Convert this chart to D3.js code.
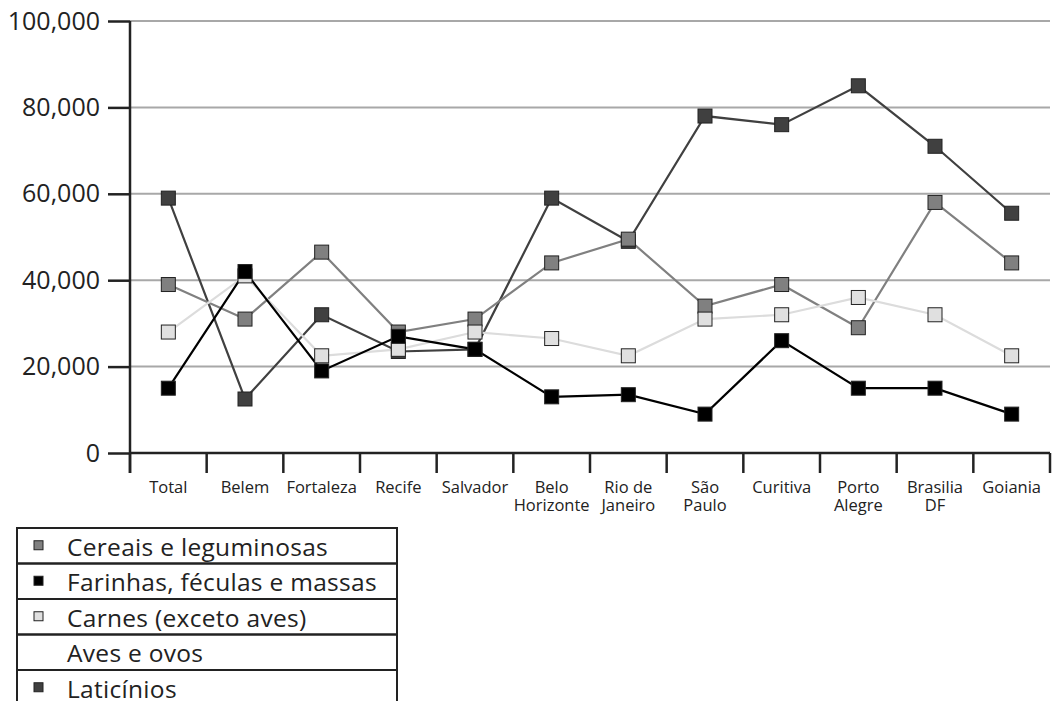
<!DOCTYPE html>
<html><head><meta charset="utf-8">
<script src="https://cdn.jsdelivr.net/npm/d3@7"></script>
<style>body{margin:0;background:#fff}svg{display:block}text{font-family:"Open Sans","Noto Sans",sans-serif;fill:#222}</style>
</head><body><svg id="c" width="1054" height="701"></svg>
<script>
const categories = ["Total","Belem","Fortaleza","Recife","Salvador","Belo Horizonte","Rio de Janeiro","São Paulo","Curitiva","Porto Alegre","Brasilia DF","Goiania"];
const categoryLines = [["Total"],["Belem"],["Fortaleza"],["Recife"],["Salvador"],["Belo","Horizonte"],["Rio de","Janeiro"],["São","Paulo"],["Curitiva"],["Porto","Alegre"],["Brasilia","DF"],["Goiania"]];
const yTicks = [0,20000,40000,60000,80000,100000];
const laticinios = [59000,12500,32000,23500,24000,59000,49000,78000,76000,85000,71000,55500];
const cereais = [39000,31000,46500,28000,31000,44000,49500,34000,39000,29000,58000,44000];
const carnes = [28000,41000,22500,24000,28000,26500,22500,31000,32000,36000,32000,22500];
const farinhas = [15000,42000,19000,27000,24000,13000,13500,9000,26000,15000,15000,9000];
const seriesNames = ["Cereais e leguminosas","Farinhas, féculas e massas","Carnes (exceto aves)","Aves e ovos","Laticínios"];

const svg = d3.select("#c");
const x = d3.scaleBand().domain(categories).range([130,1050]);
const y = d3.scaleLinear().domain([0,100000]).range([453,21]);

// gridlines
svg.append("g").selectAll("line").data(yTicks.filter(d=>d>0)).join("line")
  .attr("x1",130).attr("x2",1050).attr("y1",d=>y(d)).attr("y2",d=>y(d))
  .attr("stroke","#a8a8a8").attr("stroke-width",2);

// y axis
const ya = svg.append("g").attr("transform","translate(130,0)")
  .call(d3.axisLeft(y).tickValues(yTicks).tickSize(22).tickPadding(8).tickFormat(d3.format(",")));
ya.select(".domain").remove();
ya.selectAll(".tick line").attr("stroke","#222").attr("stroke-width",2.5);
ya.selectAll(".tick text").attr("font-size",25).attr("fill","#222").attr("font-family","'Open Sans',sans-serif");
svg.append("line").attr("x1",130).attr("x2",130).attr("y1",y(100000)).attr("y2",473).attr("stroke","#222").attr("stroke-width",2.5);

// x axis
svg.append("line").attr("x1",130).attr("x2",1050).attr("y1",453).attr("y2",453).attr("stroke","#222").attr("stroke-width",2.5);
const edges = categories.map(c=>x(c)).concat([x.range()[1]]);
svg.append("g").selectAll("line").data(edges).join("line")
  .attr("x1",d=>d).attr("x2",d=>d).attr("y1",453).attr("y2",473).attr("stroke","#222").attr("stroke-width",2.5);
const xl = svg.append("g").selectAll("text").data(categories).join("text")
  .attr("x",d=>x(d)+x.bandwidth()/2).attr("y",493).attr("text-anchor","middle").attr("font-size",16.5);
xl.each(function(d,i){
  const t=d3.select(this);
  categoryLines[i].forEach((s,j)=>t.append("tspan").attr("x",x(d)+x.bandwidth()/2).attr("dy",j?18:0).text(s));
});

// series
const series = [
  {name:"Laticínios",vals:laticinios,line:"#404040",fill:"#404040",w:2.2},
  {name:"Cereais e leguminosas",vals:cereais,line:"#808080",fill:"#808080",w:2.2},
  {name:"Carnes (exceto aves)",vals:carnes,line:"#dcdcdc",fill:"#e0e0e0",w:2.2},
  {name:"Farinhas, féculas e massas",vals:farinhas,line:"#000",fill:"#000",w:2.2}
];
const cx = c=>x(c)+x.bandwidth()/2;
const line = d3.line().x((d,i)=>cx(categories[i])).y(d=>y(d));
series.forEach(s=>{
  svg.append("path").datum(s.vals).attr("d",line).attr("fill","none").attr("stroke",s.line).attr("stroke-width",s.w);
});
series.forEach(s=>{
  svg.append("g").selectAll("rect").data(s.vals).join("rect")
    .attr("x",(d,i)=>cx(categories[i])-7).attr("y",d=>y(d)-7).attr("width",14).attr("height",14)
    .attr("fill",s.fill).attr("stroke","#222").attr("stroke-width",1);
});

// legend
const legFill = {"Cereais e leguminosas":"#808080","Farinhas, féculas e massas":"#000","Carnes (exceto aves)":"#e0e0e0","Aves e ovos":null,"Laticínios":"#404040"};
const rowH = 35.5, lx=17, ly=528, lw=380;
const lg = svg.append("g");
seriesNames.forEach((n,i)=>{
  const g = lg.append("g").attr("transform",`translate(${lx},${ly+i*rowH})`);
  g.append("rect").attr("width",lw).attr("height",rowH).attr("fill","none").attr("stroke","#222").attr("stroke-width",2);
  if(legFill[n]) g.append("rect").attr("x",17).attr("y",rowH/2-5).attr("width",9).attr("height",9).attr("fill",legFill[n]).attr("stroke","#222").attr("stroke-width",1);
  g.append("text").attr("x",50).attr("y",rowH/2+10).attr("font-size",24.5).attr("letter-spacing",0.3).text(n);
});
</script></body></html>
